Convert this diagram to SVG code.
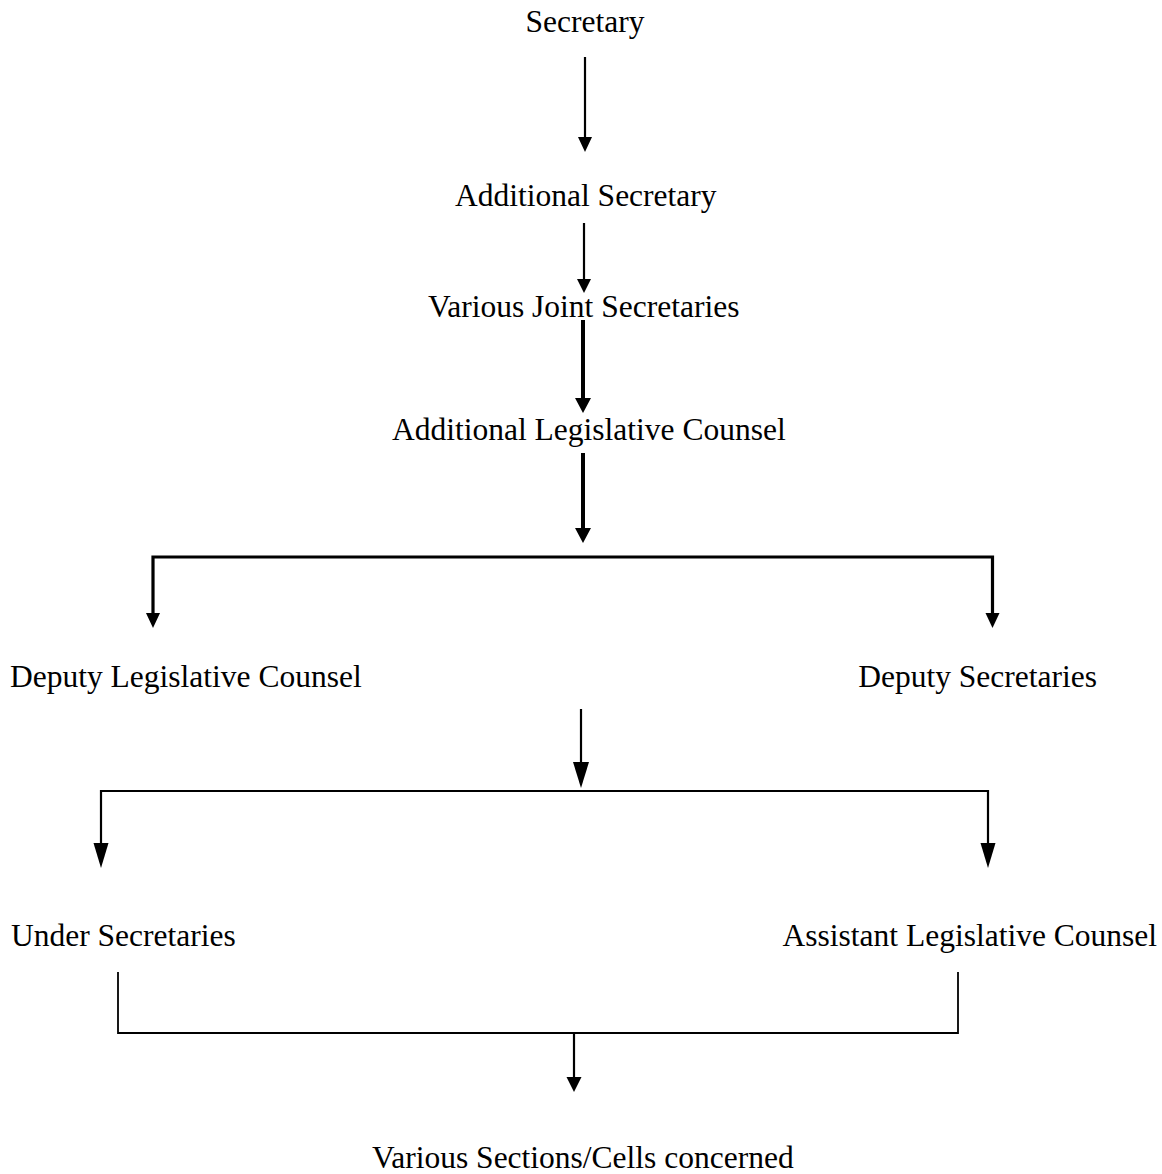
<svg xmlns="http://www.w3.org/2000/svg" width="1162" height="1174" viewBox="0 0 1162 1174">
<style>
  text { font-family: "Liberation Serif", "Times New Roman", serif; font-size: 31.5px; fill: #000; }
  .ln { stroke: #000; fill: none; stroke-linecap: butt; }
  .thin { stroke-width: 2.2; }
  .thick { stroke-width: 4; }
  .mid { stroke-width: 3.2; }
  .hair { stroke-width: 1.8; }
  .head { fill: #000; stroke: none; }
</style>
<rect width="1162" height="1174" fill="#fff"/>
<g id="connectors">
  <line class="ln thin" x1="585" y1="57" x2="585" y2="139"/>
  <polygon class="head" points="578,137 592,137 585,152"/>
  <line class="ln thin" x1="584" y1="223" x2="584" y2="281"/>
  <polygon class="head" points="577,279 591,279 584,293"/>
  <line class="ln thick" x1="583" y1="320" x2="583" y2="400"/>
  <polygon class="head" points="575,398 591,398 583,413"/>
  <line class="ln thick" x1="583" y1="453" x2="583" y2="530"/>
  <polygon class="head" points="575,528 591,528 583,543"/>
  <polyline class="ln mid" points="153,615 153,557 992.5,557 992.5,615"/>
  <polygon class="head" points="146,613 160,613 153,628"/>
  <polygon class="head" points="985.5,613 999.5,613 992.5,628"/>
  <line class="ln thin" x1="581" y1="709" x2="581" y2="765"/>
  <polygon class="head" points="573,762 589,762 581,788"/>
  <polyline class="ln thin" points="101,845 101,791 988,791 988,845"/>
  <polygon class="head" points="93.5,843 108.5,843 101,868"/>
  <polygon class="head" points="980.5,843 995.5,843 988,868"/>
  <polyline class="ln hair" points="118,972 118,1033 958,1033 958,972"/>
  <line class="ln thin" x1="574" y1="1033" x2="574" y2="1079"/>
  <polygon class="head" points="566.5,1077 581.5,1077 574,1092"/>
</g>
<g id="n-secretary"><text x="585" y="32" text-anchor="middle">Secretary</text></g>
<g id="n-additional-secretary"><text x="455" y="206">Additional Secretary</text></g>
<g id="n-joint-secretaries"><text x="428" y="317">Various Joint Secretaries</text></g>
<g id="n-additional-legislative-counsel"><text x="392" y="440">Additional Legislative Counsel</text></g>
<g id="n-deputy-legislative-counsel"><text x="10" y="687">Deputy Legislative Counsel</text></g>
<g id="n-deputy-secretaries"><text x="1097" y="687" text-anchor="end">Deputy Secretaries</text></g>
<g id="n-under-secretaries"><text x="11" y="946">Under Secretaries</text></g>
<g id="n-assistant-legislative-counsel"><text x="1157" y="946" text-anchor="end">Assistant Legislative Counsel</text></g>
<g id="n-various-sections"><text x="372" y="1168">Various Sections/Cells concerned</text></g>
</svg>
